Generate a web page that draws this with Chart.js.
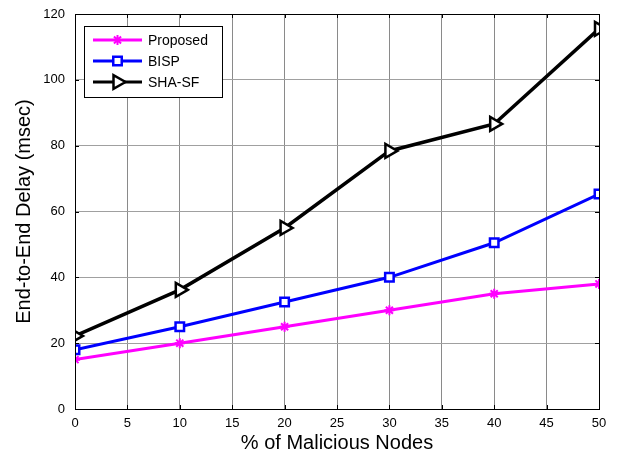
<!DOCTYPE html>
<html>
<head>
<meta charset="utf-8">
<script src="https://cdn.jsdelivr.net/npm/chart.js@4"></script>
<style>
  html, body { margin: 0; padding: 0; background: #fff; }
  #wrap { width: 618px; height: 459px; }
</style>
</head>
<body>
<div id="wrap"><canvas id="chartCanvas" width="618" height="459"></canvas></div>
<script>
const xValues = [0, 10, 20, 30, 40, 50];
const proposed = [15, 20, 25, 30, 35, 38];
const bisp = [18, 25, 32.5, 40, 50.5, 65.3];
const shaSf = [22.2, 36.2, 55, 78.4, 86.6, 115.5];
const seriesNames = ['Proposed', 'BISP', 'SHA-SF'];

const FONT = 'Arial, "Liberation Sans", sans-serif';

function toPoints(ys) {
  return xValues.map((x, i) => ({ x, y: ys[i] }));
}

// cadre + légende style MATLAB
const boxPlugin = {
  id: 'boxPlugin',
  afterDatasetsDraw(chart) {
    const { ctx, chartArea: a } = chart;
    ctx.save();
    ctx.strokeStyle = '#000';
    ctx.lineWidth = 1;
    ctx.strokeRect(a.left + 0.5, a.top + 0.5, a.right - a.left, a.bottom - a.top);

    // petits ticks intérieurs
    const xs = chart.scales.x, ys = chart.scales.y;
    ctx.beginPath();
    for (let v = 0; v <= 50; v += 5) {
      const px = Math.round(xs.getPixelForValue(v)) + 0.5;
      ctx.moveTo(px, a.bottom); ctx.lineTo(px, a.bottom - 4);
      ctx.moveTo(px, a.top); ctx.lineTo(px, a.top + 4);
    }
    for (let v = 0; v <= 120; v += 20) {
      const py = Math.round(ys.getPixelForValue(v)) + 0.5;
      ctx.moveTo(a.left, py); ctx.lineTo(a.left + 4, py);
      ctx.moveTo(a.right, py); ctx.lineTo(a.right - 4, py);
    }
    ctx.stroke();

    // légende
    const bx = 84, by = 26, bw = 138, bh = 71;
    ctx.fillStyle = '#fff';
    ctx.fillRect(bx, by, bw, bh);
    ctx.strokeRect(bx + 0.5, by + 0.5, bw, bh);
    const rows = [40, 61, 82];
    chart.data.datasets.forEach((ds, i) => {
      const y = rows[i];
      ctx.strokeStyle = ds.borderColor;
      ctx.lineWidth = 3;
      ctx.beginPath();
      ctx.moveTo(93, y); ctx.lineTo(142, y);
      ctx.stroke();
      ctx.strokeStyle = ds.pointBorderColor;
      ctx.fillStyle = ds.pointBackgroundColor;
      ctx.lineWidth = ds.pointBorderWidth;
      Chart.helpers.drawPoint(ctx, {
        pointStyle: ds.pointStyle,
        rotation: ds.pointRotation || 0,
        radius: ds.pointRadius,
        borderWidth: ds.pointBorderWidth
      }, 117.5, y);
      ctx.fillStyle = '#000';
      ctx.font = '14px ' + FONT;
      ctx.textBaseline = 'middle';
      ctx.fillText(ds.label, 148, y + 1);
    });
    ctx.restore();
  }
};

const ctx = document.getElementById('chartCanvas').getContext('2d');
new Chart(ctx, {
  type: 'line',
  data: {
    datasets: [
      {
        label: seriesNames[0],
        data: toPoints(proposed),
        borderColor: '#ff00ff',
        backgroundColor: '#ff00ff',
        borderWidth: 3,
        pointStyle: 'star',
        pointRadius: 5,
        pointBorderWidth: 2,
        pointBorderColor: '#ff00ff',
        pointBackgroundColor: '#ff00ff'
      },
      {
        label: seriesNames[1],
        data: toPoints(bisp),
        borderColor: '#0000ff',
        backgroundColor: '#fff',
        borderWidth: 3,
        pointStyle: 'rect',
        pointRadius: 6,
        pointBorderWidth: 2.5,
        pointBorderColor: '#0000ff',
        pointBackgroundColor: '#fff'
      },
      {
        label: seriesNames[2],
        data: toPoints(shaSf),
        borderColor: '#000',
        backgroundColor: '#fff',
        borderWidth: 3.5,
        pointStyle: 'triangle',
        pointRotation: 90,
        pointRadius: 8,
        pointBorderWidth: 2.5,
        pointBorderColor: '#000',
        pointBackgroundColor: '#fff'
      }
    ]
  },
  options: {
    responsive: false,
    animation: false,
    layout: { padding: { top: 14, right: 19, left: 0, bottom: 0 } },
    plugins: { legend: { display: false }, tooltip: { enabled: false } },
    scales: {
      x: {
        type: 'linear',
        min: 0, max: 50,
        ticks: { stepSize: 5, color: '#000', font: { family: FONT, size: 13 }, padding: 7, maxRotation: 0 },
        grid: { color: '#8a8a8a', lineWidth: 1, drawTicks: false },
        border: { display: false },
        title: { display: true, text: '% of Malicious Nodes', color: '#000', font: { family: FONT, size: 20 }, padding: { top: 0, bottom: 4 } },
        afterFit(scale) { scale.height = 50; scale.paddingLeft = 0; scale.paddingRight = 0; }
      },
      y: {
        min: 0, max: 120,
        ticks: { stepSize: 20, color: '#000', font: { family: FONT, size: 13 }, padding: 10 },
        grid: { color: '#a0a0a0', lineWidth: 1, drawTicks: false },
        border: { display: false },
        title: { display: true, text: 'End-to-End Delay (msec)', color: '#000', font: { family: FONT, size: 20 }, padding: { top: 12, bottom: 0 } },
        afterFit(scale) { scale.width = 75; scale.paddingTop = 0; scale.paddingBottom = 0; }
      }
    }
  },
  plugins: [boxPlugin]
});
</script>
</body>
</html>
